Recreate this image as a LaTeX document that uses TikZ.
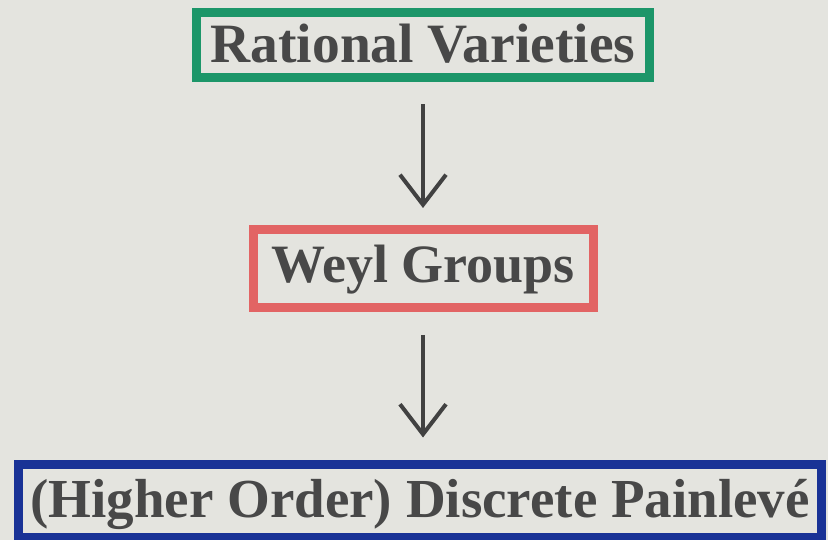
\documentclass[tikz,border=0pt]{standalone}
\usepackage{fontspec}
\setmainfont{Liberation Serif}
\usetikzlibrary{arrows.meta}
\definecolor{paper}{RGB}{228,228,223}
\definecolor{ink}{RGB}{72,72,72}
\definecolor{boxgreen}{RGB}{28,150,105}
\definecolor{boxred}{RGB}{226,100,100}
\definecolor{boxblue}{RGB}{25,50,150}
\tikzset{
  titlebox/.style={draw, line width=9pt, inner sep=0pt, outer sep=0pt,
    anchor=base, text=ink, align=center,
    font=\fontsize{54}{60}\selectfont\bfseries},
  bigtitle/.style={font=\fontsize{55.5}{60}\selectfont\bfseries},
  widetitle/.style={font=\fontsize{55}{60}\selectfont\bfseries},
  flowarrow/.style={draw=ink!90!black, line width=4pt,
    -{Straight Barb[length=30pt,width=46pt,line width=4pt]}}
}
\begin{document}
\begin{tikzpicture}[x=1pt,y=-1pt]
  \fill[paper] (0,0) rectangle (828,540);
  \useasboundingbox (0,0) rectangle (828,540);

  \node[titlebox, bigtitle, draw=boxgreen, minimum width=453pt,
        text height=50.5pt, text depth=14.5pt] (rv) at (423,63) {Rational Varieties};
  \node[titlebox, draw=boxred, minimum width=340pt,
        text height=53pt, text depth=25pt] (wg) at (423,283) {Weyl Groups};
  \node[titlebox, widetitle, draw=boxblue, minimum width=803pt,
        text height=52.5pt, text depth=20pt] (dp) at (420,517) {(Higher Order) Discrete Painlevé};

  \draw[flowarrow, shorten <=27pt, shorten >=22pt] (rv.south) -- (wg.north);
  \draw[flowarrow, shorten <=27pt, shorten >=27pt] (wg.south) -- (wg.south |- dp.north);
\end{tikzpicture}
\end{document}
